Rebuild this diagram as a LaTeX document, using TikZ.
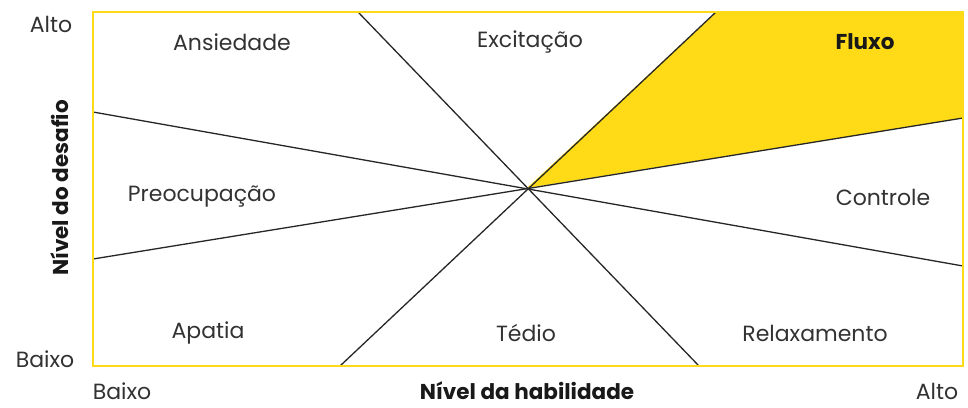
\documentclass[tikz,border=0pt]{standalone}
\usepackage{fontspec}
\setmainfont{Poppins}
\usepackage{tikz}
\usetikzlibrary{positioning}
\definecolor{flowYellow}{RGB}{254,219,22}
\definecolor{textGray}{RGB}{50,50,50}
\tikzstyle{chart} = [x = 1pt, y = -1pt]
\tikzstyle{frameLine} = [color=flowYellow, line width=1.2pt]
\tikzstyle{zoneLine} = [color=black!85, line width=1.3pt]
\tikzstyle{zoneText} = [font=\fontsize{22}{26}\selectfont, text=textGray, inner sep=0pt]
\tikzstyle{axisText} = [font=\fontsize{22}{26}\selectfont, text=textGray, inner sep=0pt, anchor=base, text depth=0pt]
\tikzstyle{axisTitle} = [font=\fontsize{21.5}{26}\selectfont\bfseries, text=black!90, inner sep=0pt]
\newcommand{\zoneLabel}[3]{\node [zoneText] (#1) at (#2) {#3};}

\begin{document}
\begin{tikzpicture}[chart]
            \useasboundingbox (0,0) rectangle (968,407);
            % corners and line ends
            \coordinate (center) at (527,188);
            \coordinate (topLeft) at (93,12);
            \coordinate (topRight) at (963,12);
            \coordinate (bottomRight) at (963,366);
            \coordinate (leftHigh) at (93,112);
            \coordinate (leftLow) at (93,259);
            \coordinate (rightHigh) at (963,118);
            \coordinate (rightLow) at (963,266);
            \coordinate (topA) at (358,12);
            \coordinate (topB) at (716,12);
            \coordinate (bottomA) at (340,366);
            \coordinate (bottomB) at (699,366);
            \fill [flowYellow] (center) -- (topB) -- (topRight) -- (rightHigh) -- cycle;
            \draw [zoneLine] (leftHigh) -- (rightLow);
            \draw [zoneLine] (leftLow) -- (rightHigh);
            \draw [zoneLine] (topA) -- (bottomB);
            \draw [zoneLine] (topB) -- (bottomA);
            \draw [frameLine] (topLeft) rectangle (bottomRight);
            \zoneLabel{ansiedade}{232,42}{Ansiedade}
            \zoneLabel{excitacao}{530,42}{Excitação}
            \node [axisTitle] (fluxo) at (865,42) {Fluxo};
            \zoneLabel{preocupacao}{202,197}{Preocupação}
            \zoneLabel{controle}{883,197}{Controle}
            \zoneLabel{apatia}{208,333}{Apatia}
            \zoneLabel{tedio}{526,333}{Tédio}
            \zoneLabel{relaxamento}{815,333}{Relaxamento}
            \node [axisText] (yHigh) at (51,32) {Alto};
            \node [axisText] (yLow) at (45,367) {Baixo};
            \node [axisText] (xLow) at (122,399) {Baixo};
            \node [axisText] (xHigh) at (937,399) {Alto};
            \node [axisTitle, anchor=base, text depth=0pt] (xTitle) at (527,399) {Nível da habilidade};
            \node [axisTitle, rotate=90] (yTitle) at (60,188) {Nível do desafio};
          \end{tikzpicture}
\end{document}
